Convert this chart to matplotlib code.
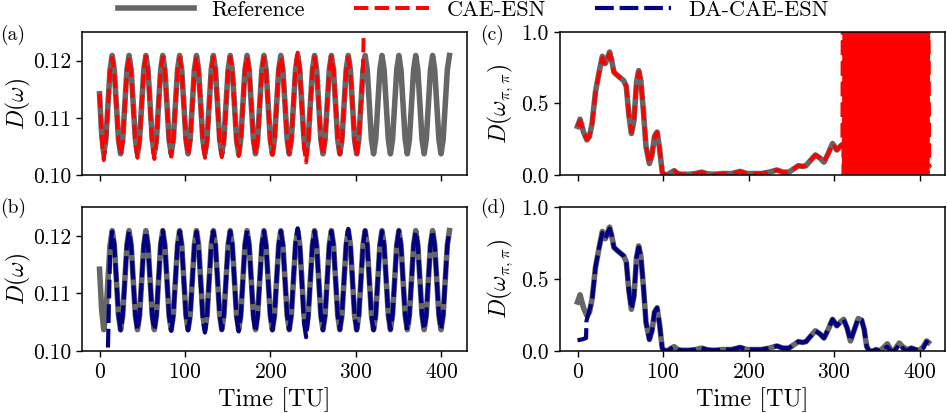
import numpy as np
import matplotlib.pyplot as plt

plt.rcParams['font.family'] = 'serif'
plt.rcParams['font.serif'] = ['cmr10']
plt.rcParams['mathtext.fontset'] = 'cm'
plt.rcParams['axes.formatter.use_mathtext'] = True
plt.rcParams['axes.unicode_minus'] = False

# D(omega) time grid (8 samples per period)
t_w = np.linspace(0, 409.4, 167)

ref_w = [0.1142, 0.1072, 0.1037,
         0.1062, 0.1123, 0.1184, 0.1209, 0.1184, 0.1123, 0.1062, 0.1037,
         0.1062, 0.1123, 0.1184, 0.1209, 0.1184, 0.1123, 0.1062, 0.1037,
         0.1062, 0.1123, 0.1184, 0.1209, 0.1184, 0.1123, 0.1062, 0.1037,
         0.1062, 0.1123, 0.1184, 0.1209, 0.1184, 0.1123, 0.1062, 0.1037,
         0.1062, 0.1123, 0.1184, 0.1209, 0.1184, 0.1123, 0.1062, 0.1037,
         0.1062, 0.1123, 0.1184, 0.1209, 0.1184, 0.1123, 0.1062, 0.1037,
         0.1062, 0.1123, 0.1184, 0.1209, 0.1184, 0.1123, 0.1062, 0.1037,
         0.1062, 0.1123, 0.1184, 0.1209, 0.1184, 0.1123, 0.1062, 0.1037,
         0.1062, 0.1123, 0.1184, 0.1209, 0.1184, 0.1123, 0.1062, 0.1037,
         0.1062, 0.1123, 0.1184, 0.1209, 0.1184, 0.1123, 0.1062, 0.1037,
         0.1062, 0.1123, 0.1184, 0.1209, 0.1184, 0.1123, 0.1062, 0.1037,
         0.1062, 0.1123, 0.1184, 0.1209, 0.1184, 0.1123, 0.1062, 0.1037,
         0.1062, 0.1123, 0.1184, 0.1209, 0.1184, 0.1123, 0.1062, 0.1037,
         0.1062, 0.1123, 0.1184, 0.1209, 0.1184, 0.1123, 0.1062, 0.1037,
         0.1062, 0.1123, 0.1184, 0.1209, 0.1184, 0.1123, 0.1062, 0.1037,
         0.1062, 0.1123, 0.1184, 0.1209, 0.1184, 0.1123, 0.1062, 0.1037,
         0.1062, 0.1123, 0.1184, 0.1209, 0.1184, 0.1123, 0.1062, 0.1037,
         0.1062, 0.1123, 0.1184, 0.1209, 0.1184, 0.1123, 0.1062, 0.1037,
         0.1062, 0.1123, 0.1184, 0.1209, 0.1184, 0.1123, 0.1062, 0.1037,
         0.1062, 0.1123, 0.1184, 0.1209, 0.1184, 0.1123, 0.1062, 0.1037,
         0.1062, 0.1123, 0.1184, 0.1209]

# CAE-ESN, diverges after ~310 TU
cae_w = [0.1142, 0.1068, 0.1026,
         0.1060, 0.1122, 0.1182, 0.1205, 0.1182, 0.1121, 0.1058, 0.1035,
         0.1058, 0.1121, 0.1183, 0.1206, 0.1180, 0.1118, 0.1055, 0.1030,
         0.1060, 0.1124, 0.1185, 0.1207, 0.1180, 0.1116, 0.1052, 0.1028,
         0.1058, 0.1123, 0.1184, 0.1206, 0.1181, 0.1119, 0.1057, 0.1032,
         0.1060, 0.1122, 0.1183, 0.1205, 0.1182, 0.1121, 0.1059, 0.1035,
         0.1058, 0.1120, 0.1184, 0.1207, 0.1181, 0.1118, 0.1055, 0.1030,
         0.1058, 0.1121, 0.1183, 0.1206, 0.1180, 0.1117, 0.1056, 0.1031,
         0.1059, 0.1122, 0.1184, 0.1206, 0.1182, 0.1120, 0.1058, 0.1033,
         0.1060, 0.1123, 0.1184, 0.1207, 0.1183, 0.1122, 0.1060, 0.1036,
         0.1061, 0.1123, 0.1183, 0.1205, 0.1182, 0.1121, 0.1060, 0.1035,
         0.1061, 0.1124, 0.1185, 0.1206, 0.1183, 0.1122, 0.1061, 0.1036,
         0.1062, 0.1126, 0.1190, 0.1214, 0.1185, 0.1115, 0.1048, 0.1022,
         0.1056, 0.1121, 0.1183, 0.1206, 0.1182, 0.1121, 0.1060, 0.1035,
         0.1061, 0.1123, 0.1184, 0.1207, 0.1183, 0.1122, 0.1061, 0.1036,
         0.1060, 0.1121, 0.1183, 0.1205, 0.1180, 0.1119, 0.1057, 0.1033,
         0.1062, 0.1125, 0.1190, 0.1400, 0.2000]

# DA-CAE-ESN, starts at ~10 TU
da_w = [0.1006, 0.1172, 0.1207, 0.1185, 0.1124, 0.1062, 0.1036,
        0.1061, 0.1123, 0.1184, 0.1208, 0.1184, 0.1123, 0.1061, 0.1036,
        0.1062, 0.1123, 0.1184, 0.1208, 0.1183, 0.1122, 0.1061, 0.1036,
        0.1061, 0.1123, 0.1185, 0.1209, 0.1184, 0.1122, 0.1060, 0.1035,
        0.1062, 0.1124, 0.1184, 0.1208, 0.1184, 0.1123, 0.1061, 0.1036,
        0.1061, 0.1122, 0.1183, 0.1207, 0.1182, 0.1119, 0.1056, 0.1032,
        0.1060, 0.1123, 0.1184, 0.1208, 0.1184, 0.1123, 0.1062, 0.1037,
        0.1062, 0.1123, 0.1184, 0.1208, 0.1183, 0.1121, 0.1059, 0.1034,
        0.1061, 0.1124, 0.1185, 0.1209, 0.1183, 0.1120, 0.1058, 0.1033,
        0.1060, 0.1123, 0.1184, 0.1208, 0.1184, 0.1123, 0.1061, 0.1036,
        0.1061, 0.1123, 0.1184, 0.1208, 0.1184, 0.1123, 0.1062, 0.1037,
        0.1063, 0.1126, 0.1189, 0.1213, 0.1186, 0.1116, 0.1049, 0.1024,
        0.1058, 0.1122, 0.1184, 0.1208, 0.1183, 0.1122, 0.1061, 0.1036,
        0.1061, 0.1123, 0.1184, 0.1208, 0.1184, 0.1123, 0.1062, 0.1037,
        0.1062, 0.1124, 0.1186, 0.1212, 0.1186, 0.1123, 0.1061, 0.1036,
        0.1061, 0.1123, 0.1184, 0.1209, 0.1184, 0.1123, 0.1061, 0.1036,
        0.1061, 0.1123, 0.1184, 0.1208, 0.1184, 0.1123, 0.1062, 0.1037,
        0.1062, 0.1123, 0.1184, 0.1209, 0.1184, 0.1122, 0.1061, 0.1036,
        0.1061, 0.1123, 0.1184, 0.1208, 0.1184, 0.1123, 0.1062, 0.1037,
        0.1062, 0.1123, 0.1184, 0.1209, 0.1184, 0.1123, 0.1062, 0.1037,
        0.1062, 0.1123, 0.1184, 0.1209]

# D(omega_pi,pi)
t_p = [0, 3, 7, 11, 14, 17, 21, 25, 29, 32.5, 35, 37.5, 40, 42.5, 46, 50, 54,
       57, 60, 63, 66, 69, 71.5, 74, 77, 80, 84, 87, 90, 93, 96, 99, 102, 106,
       110, 113, 117, 122, 130, 138, 145, 152, 160, 170, 180, 190, 198, 206,
       215, 224, 233, 240, 247, 252, 258, 263, 267, 272, 278, 283, 288, 293,
       298, 303, 307, 311, 315, 319, 323, 328, 332, 335, 338, 341, 345, 349,
       353, 357, 362, 366, 370, 373, 376, 380, 385, 390, 395, 400, 404, 408,
       410]
ref_p = [0.34, 0.39, 0.30, 0.245, 0.27, 0.36, 0.58, 0.71, 0.83, 0.78, 0.82,
         0.86, 0.80, 0.72, 0.70, 0.68, 0.66, 0.62, 0.42, 0.29, 0.38, 0.65,
         0.73, 0.66, 0.45, 0.20, 0.08, 0.14, 0.27, 0.30, 0.18, 0.02, 0.0,
         0.005, 0.02, 0.03, 0.01, 0.005, 0.005, 0.01, 0.02, 0.008, 0.005,
         0.01, 0.01, 0.025, 0.01, 0.01, 0.01, 0.02, 0.035, 0.02, 0.02, 0.04,
         0.065, 0.06, 0.065, 0.10, 0.14, 0.12, 0.09, 0.15, 0.22, 0.175, 0.20,
         0.22, 0.16, 0.07, 0.14, 0.225, 0.215, 0.15, 0.03, 0.0, 0.0, 0.01,
         0.0, 0.02, 0.05, 0.01, 0.0, 0.03, 0.055, 0.03, 0.01, 0.02, 0.01,
         0.005, 0.03, 0.07, 0.06]

t_cae_p = [0, 3, 7, 11, 14, 17, 21, 25, 29, 32.5, 35, 37.5, 40, 42.5, 46, 50,
           54, 57, 60, 63, 66, 69, 71.5, 74, 77, 80, 84, 87, 90, 93, 96, 99,
           102, 106, 110, 113, 117, 122, 130, 138, 145, 152, 160, 170, 180,
           190, 198, 206, 215, 224, 233, 240, 247, 252, 258, 263, 267, 272,
           278, 283, 288, 293, 298, 303, 307, 309.5,
           310, 311, 312, 313, 314, 315, 316, 317, 318, 319,
           320, 321, 322, 323, 324, 325, 326, 327, 328, 329,
           330, 331, 332, 333, 334, 335, 336, 337, 338, 339,
           340, 341, 342, 343, 344, 345, 346, 347, 348, 349,
           350, 351, 352, 353, 354, 355, 356, 357, 358, 359,
           360, 361, 362, 363, 364, 365, 366, 367, 368, 369,
           370, 371, 372, 373, 374, 375, 376, 377, 378, 379,
           380, 381, 382, 383, 384, 385, 386, 387, 388, 389,
           390, 391, 392, 393, 394, 395, 396, 397, 398, 399,
           400, 401, 402, 403, 404, 405, 406, 407, 408, 409,
           410, 411]
cae_p = [0.34, 0.38, 0.30, 0.25, 0.27, 0.36, 0.58, 0.71, 0.82, 0.77, 0.81,
         0.85, 0.80, 0.72, 0.70, 0.68, 0.66, 0.62, 0.42, 0.30, 0.38, 0.65,
         0.72, 0.66, 0.45, 0.20, 0.08, 0.14, 0.27, 0.30, 0.18, 0.02, 0.0,
         0.005, 0.02, 0.03, 0.01, 0.005, 0.005, 0.01, 0.02, 0.008, 0.005,
         0.01, 0.01, 0.025, 0.01, 0.01, 0.01, 0.02, 0.035, 0.02, 0.02, 0.04,
         0.065, 0.06, 0.065, 0.10, 0.14, 0.12, 0.09, 0.15, 0.22, 0.175, 0.20,
         0.22,
         1.5, -0.5, 1.5, -0.5, 1.5, -0.5, 1.5, -0.5, 1.5, -0.5,
         1.5, -0.5, 1.5, -0.5, 1.5, -0.5, 1.5, -0.5, 1.5, -0.5,
         1.5, -0.5, 1.5, -0.5, 1.5, -0.5, 1.5, -0.5, 1.5, -0.5,
         1.5, -0.5, 1.5, -0.5, 1.5, -0.5, 1.5, -0.5, 1.5, -0.5,
         1.5, -0.5, 1.5, -0.5, 1.5, -0.5, 1.5, -0.5, 1.5, -0.5,
         1.5, -0.5, 1.5, -0.5, 1.5, -0.5, 1.5, -0.5, 1.5, -0.5,
         1.5, -0.5, 1.5, -0.5, 1.5, -0.5, 1.5, -0.5, 1.5, -0.5,
         1.5, -0.5, 1.5, -0.5, 1.5, -0.5, 1.5, -0.5, 1.5, -0.5,
         1.5, -0.5, 1.5, -0.5, 1.5, -0.5, 1.5, -0.5, 1.5, -0.5,
         1.5, -0.5, 1.5, -0.5, 1.5, -0.5, 1.5, -0.5, 1.5, -0.5,
         1.5, 0.06]

t_da_p = [0, 5, 10, 10.5, 13, 17, 21, 25, 29, 32.5, 35, 37.5, 40, 42.5, 46,
          50, 54, 57, 60, 63, 66, 69, 71.5, 74, 77, 80, 84, 87, 90, 93, 96,
          99, 102, 106, 110, 113, 117, 122, 130, 138, 145, 152, 160, 170, 180,
          190, 198, 206, 215, 224, 233, 240, 247, 252, 258, 263, 267, 272,
          278, 283, 288, 293, 298, 303, 307, 311, 315, 319, 323, 328, 332,
          335, 338, 341, 345, 349, 353, 357, 362, 366, 370, 373, 376, 380,
          385, 390, 395, 400, 404, 408, 410]
da_p = [0.075, 0.08, 0.09, 0.21, 0.26, 0.35, 0.58, 0.71, 0.82, 0.78, 0.82,
        0.85, 0.80, 0.72, 0.70, 0.68, 0.66, 0.62, 0.42, 0.29, 0.38, 0.65,
        0.72, 0.66, 0.45, 0.20, 0.08, 0.14, 0.27, 0.30, 0.18, 0.02, 0.0,
        0.005, 0.02, 0.03, 0.01, 0.005, 0.005, 0.01, 0.02, 0.008, 0.005,
        0.01, 0.01, 0.025, 0.01, 0.01, 0.01, 0.02, 0.035, 0.02, 0.02, 0.04,
        0.065, 0.06, 0.065, 0.10, 0.14, 0.12, 0.09, 0.15, 0.22, 0.175, 0.20,
        0.22, 0.16, 0.07, 0.14, 0.225, 0.215, 0.15, 0.03, 0.0, 0.0, 0.01,
        0.0, 0.01, 0.03, 0.0, 0.0, 0.02, 0.05, 0.02, 0.0, 0.02, 0.01,
        0.0, 0.02, 0.065, 0.055]

gray = '#666666'
red = '#ff0000'
blue = '#000080'
lw_ref = 4.0
lw_cae = 2.8
lw_da = 3.0

fig = plt.figure(figsize=(9.47, 4.13), dpi=100)
ax_a = fig.add_axes([0.0866, 0.5763, 0.4066, 0.3462])
ax_c = fig.add_axes([0.5913, 0.5763, 0.4071, 0.3462])
ax_b = fig.add_axes([0.0866, 0.1501, 0.4066, 0.3487])
ax_d = fig.add_axes([0.5913, 0.1501, 0.4071, 0.3487])

h_ref, = ax_a.plot(t_w, ref_w, color=gray, lw=lw_ref)
h_cae, = ax_a.plot(t_w[:len(cae_w)], cae_w, color=red, lw=lw_cae, ls='--')
ax_b.plot(t_w, ref_w, color=gray, lw=lw_ref)
h_da, = ax_b.plot(t_w[4:], da_w, color=blue, lw=lw_da, ls=(0, (4.5, 1.4)))

ax_c.plot(t_p, ref_p, color=gray, lw=lw_ref)
ax_c.plot(t_cae_p, cae_p, color=red, lw=lw_cae, ls='--')
ax_d.plot(t_p, ref_p, color=gray, lw=lw_ref)
ax_d.plot(t_da_p, da_p, color=blue, lw=lw_da, ls=(0, (4.5, 1.4)))

for ax in [ax_a, ax_b]:
    ax.set_ylim(0.10, 0.125)
    ax.set_yticks([0.10, 0.11, 0.12])
    ax.set_yticklabels(['0.10', '0.11', '0.12'])
    ax.set_ylabel(r'$D(\omega)$', fontsize=17)
    ax.yaxis.set_label_coords(-0.128, 0.5)
for ax in [ax_c, ax_d]:
    ax.set_ylim(0, 1)
    ax.set_yticks([0.0, 0.5, 1.0])
    ax.set_yticklabels(['0.0', '0.5', '1.0'])
    ax.set_ylabel(r'$D(\omega_{\pi,\pi})$', fontsize=17)
    ax.yaxis.set_label_coords(-0.117, 0.5)
for ax in [ax_a, ax_b, ax_c, ax_d]:
    ax.set_xlim(-20.5, 430)
    ax.set_xticks([0, 100, 200, 300, 400])
    ax.tick_params(labelsize=15.5, length=4.5, width=1)
    for s in ax.spines.values():
        s.set_linewidth(1.1)
for ax in [ax_a, ax_c]:
    ax.set_xticklabels([])
for ax in [ax_b, ax_d]:
    ax.set_xlabel('Time [TU]', fontsize=17.5)

fig.text(0.0, 0.915, '(a)', ha='left', va='center', fontsize=14)
fig.text(0.507, 0.915, '(c)', ha='left', va='center', fontsize=14)
fig.text(0.0, 0.496, '(b)', ha='left', va='center', fontsize=14)
fig.text(0.507, 0.496, '(d)', ha='left', va='center', fontsize=14)

fig.legend([h_ref, h_cae, h_da], ['Reference', 'CAE-ESN', 'DA-CAE-ESN'],
           loc='center', bbox_to_anchor=(0.5, 0.976), ncol=3, frameon=False,
           fontsize=16, handlelength=3.4, handletextpad=0.8, columnspacing=2.2,
           borderpad=0)

fig.savefig('out.png', dpi=100)
